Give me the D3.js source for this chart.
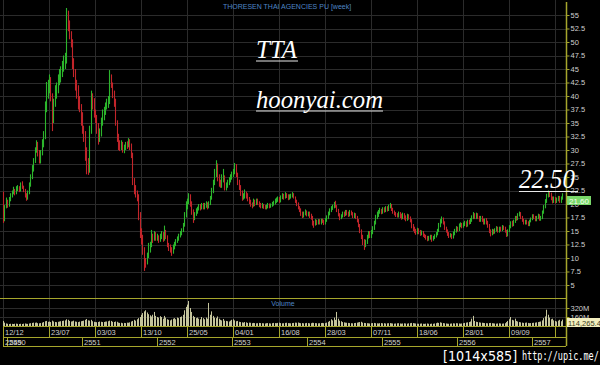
<!DOCTYPE html>
<html>
<head>
<meta charset="utf-8">
<title>TTA week</title>
<script src="https://cdnjs.cloudflare.com/ajax/libs/d3/7.8.5/d3.min.js"></script>
<style>
  body { margin: 0; background: #000; }
  svg { display: block; }
</style>
</head>
<body>
<svg id="chart" width="600" height="365"></svg>
<script>
// weekly bars, first week = 12/12/2006
var firstOpen = 22.0;
var closes = [
  17.0,19.5,20.5,19.8,20.8,21.5,22.0,22.5,22.0,22.8,
  23.0,22.5,23.5,23.0,22.5,21.5,21.0,22.0,23.5,25.0,
  26.5,28.0,30.0,31.0,29.5,28.0,29.5,31.5,32.5,38.0,
  40.5,41.5,43.0,40.0,36.0,38.5,40.5,41.0,42.5,43.5,
  44.5,45.5,46.5,47.0,55.0,53.0,51.5,50.0,46.0,44.5,
  42.0,40.5,39.0,38.0,36.0,34.0,32.5,29.0,27.0,26.0,
  34.0,40.0,38.5,37.0,36.0,34.0,32.5,33.0,35.0,36.5,
  37.0,38.0,38.5,39.0,43.5,42.0,40.5,39.0,35.0,32.5,
  31.0,30.5,31.0,30.0,30.5,31.0,30.8,31.5,31.0,29.0,
  24.0,22.5,22.0,21.5,18.0,15.0,13.0,11.5,9.5,9.0,
  10.5,11.5,12.5,14.0,13.5,14.5,13.8,14.0,13.5,14.0,
  14.5,13.5,15.0,14.0,12.5,12.0,11.5,11.0,12.0,12.5,
  13.0,13.5,14.0,14.5,15.0,16.0,18.0,19.5,20.5,21.5,
  20.0,18.5,17.5,18.0,18.5,19.0,19.5,19.2,19.8,19.5,
  19.8,20.0,19.5,20.0,21.0,22.5,24.0,25.5,27.0,25.0,
  24.0,23.5,24.5,25.0,23.0,23.5,24.0,24.5,25.0,25.5,
  26.0,27.0,25.5,24.0,23.0,22.0,21.0,21.5,22.0,21.5,
  21.0,20.5,20.0,19.8,20.5,20.0,20.8,20.2,19.8,19.5,
  19.8,19.5,19.2,19.5,19.8,19.5,19.8,20.0,20.2,20.5,
  20.8,21.0,20.5,21.2,21.5,21.2,21.8,21.5,21.0,21.3,
  21.5,21.8,21.2,20.5,20.0,19.2,18.8,18.2,17.8,18.2,
  18.5,18.0,18.2,17.8,17.5,16.5,16.2,16.8,16.5,16.8,
  16.5,17.0,16.8,16.5,17.0,17.5,18.2,18.8,19.2,19.5,
  20.0,19.5,18.8,18.0,17.5,17.8,18.2,18.0,18.5,18.2,
  18.0,18.5,18.2,17.8,18.0,17.5,17.0,16.0,15.0,14.0,
  13.0,12.5,13.0,14.0,14.5,14.0,14.8,15.5,16.5,17.5,
  18.0,18.5,18.8,18.5,19.0,18.8,19.2,19.0,19.5,19.8,
  19.0,18.5,18.2,18.0,17.8,18.2,17.8,17.5,18.0,17.5,
  17.2,17.8,17.5,17.0,16.0,15.5,15.0,14.8,15.2,14.8,
  14.5,14.8,14.2,14.0,13.8,13.5,13.8,14.0,13.5,13.8,
  14.0,14.5,15.0,16.0,16.8,17.2,16.5,15.5,15.0,14.5,
  14.0,14.2,13.8,14.5,15.0,15.5,15.2,16.0,16.2,15.8,
  16.2,16.5,16.0,16.8,16.5,17.0,17.5,18.0,17.5,18.0,
  17.5,17.0,17.5,17.0,16.5,17.0,16.5,16.0,15.0,14.5,
  15.0,14.8,15.2,15.5,15.0,15.5,15.2,15.8,15.5,15.0,
  14.2,15.0,15.8,16.5,16.2,16.8,17.5,17.2,18.0,18.2,
  17.5,17.0,16.5,16.8,16.5,16.2,16.8,17.2,17.8,17.5,
  17.0,17.5,17.8,17.2,17.5,18.5,19.5,20.5,21.5,22.0,
  21.8,21.0,20.5,21.0,20.5,20.8,21.2,20.5,21.0,21.6
];
var highs = [
  22.3,19.8,21.2,20.8,21.3,22.0,22.5,23.2,22.8,23.3,
  23.5,23.3,24.0,24.2,23.4,22.8,22.0,22.5,24.0,25.5,
  27.2,28.5,30.5,31.8,31.5,30.0,30.0,32.0,33.5,39.0,
  42.6,43.0,44.0,43.5,40.5,39.5,42.0,42.5,44.0,45.0,
  45.5,46.5,47.5,48.0,56.3,55.8,54.0,52.0,50.5,47.0,
  45.0,43.0,42.0,40.0,38.5,37.0,34.5,33.5,30.5,28.5,
  34.5,41.0,40.5,39.6,37.5,36.5,35.0,34.0,36.0,37.5,
  38.0,38.8,39.5,40.0,44.8,44.0,42.5,41.0,39.5,35.5,
  33.0,31.8,31.8,31.5,31.0,31.5,31.6,32.2,32.0,31.2,
  29.5,24.8,23.5,22.5,21.8,18.5,15.5,14.3,12.0,10.0,
  11.0,12.8,13.0,15.2,14.5,15.0,14.8,14.5,14.2,14.5,
  15.0,14.8,16.0,15.2,14.2,12.8,12.5,12.0,12.5,13.0,
  13.5,14.0,14.5,15.0,15.5,16.5,18.5,20.5,21.0,22.0,
  21.8,20.5,19.0,18.5,19.2,19.5,20.0,20.0,20.2,20.2,
  20.2,20.5,20.3,20.5,21.5,23.0,24.5,26.5,28.1,27.5,
  25.5,24.5,25.5,26.5,25.3,24.0,24.5,25.0,25.5,26.0,
  26.5,27.6,27.4,25.8,24.5,23.5,22.5,22.0,22.7,22.3,
  22.0,21.3,20.8,20.3,21.0,20.8,21.0,21.0,20.5,20.2,
  20.2,20.0,19.8,19.9,20.2,20.1,20.1,20.4,20.6,21.0,
  21.2,21.4,21.3,21.6,22.0,21.9,22.2,22.0,21.8,21.8,
  21.9,22.2,22.0,21.4,20.8,20.3,19.6,19.2,18.6,18.6,
  19.0,18.8,18.6,18.6,18.2,17.8,16.9,17.2,17.1,17.2,
  17.2,17.3,17.3,17.1,17.4,17.9,18.6,19.2,19.6,19.9,
  20.4,20.6,19.8,19.1,18.3,18.1,18.6,18.6,18.9,18.9,
  18.6,18.9,18.8,18.5,18.4,18.3,17.8,17.2,16.3,15.3,
  14.3,13.5,13.4,14.3,15.0,15.0,15.2,15.9,16.9,18.0,
  18.6,18.9,19.3,19.1,19.4,19.4,19.6,19.6,19.9,20.2,
  20.0,19.3,18.8,18.5,18.3,18.6,18.5,18.2,18.4,18.3,
  17.9,18.2,18.1,17.7,17.2,16.3,15.8,15.4,15.6,15.5,
  15.2,15.1,15.0,14.5,14.3,14.1,14.1,14.3,14.3,14.1,
  14.4,14.8,15.4,16.5,17.2,17.7,17.5,16.8,15.8,15.3,
  14.8,14.6,14.5,14.9,15.4,15.9,15.8,16.4,16.6,16.5,
  16.6,16.9,16.8,17.1,17.1,17.4,17.9,18.5,18.3,18.4,
  18.3,17.8,17.8,17.8,17.3,17.3,17.4,16.9,16.3,15.3,
  15.4,15.3,15.5,15.9,15.8,15.8,15.8,16.1,16.0,15.8,
  15.2,15.3,16.1,16.8,16.9,17.1,17.8,17.8,18.3,18.6,
  18.5,17.8,17.3,17.1,17.1,16.8,17.1,17.5,18.1,18.1,
  17.8,17.8,18.2,18.1,17.8,18.8,19.8,20.9,21.9,22.5,
  22.4,22.1,21.4,21.4,21.3,21.2,21.5,21.5,21.4,22.0
];
var lows = [
  16.5,16.8,19.2,19.3,19.5,20.5,21.2,21.8,21.6,21.8,
  22.4,22.2,22.3,22.8,22.2,21.2,20.6,20.8,21.8,23.2,
  24.6,26.0,27.6,29.5,28.8,27.5,27.5,29.0,30.5,32.0,
  37.0,39.5,40.5,39.0,33.5,35.0,38.0,39.5,40.5,42.0,
  42.5,43.5,44.5,45.0,46.0,52.0,50.5,49.0,45.0,43.5,
  41.0,39.5,37.5,37.0,34.5,33.0,31.5,28.0,25.5,25.4,
  25.8,33.0,37.5,36.0,35.0,33.0,31.0,31.5,32.5,34.5,
  35.5,36.5,37.5,37.8,38.5,41.5,39.6,38.0,34.5,31.5,
  30.0,29.8,30.0,29.5,29.4,30.0,30.2,30.5,30.0,28.5,
  23.5,21.8,21.2,20.5,17.0,13.7,12.5,10.6,7.6,8.2,
  8.8,10.0,11.0,12.0,12.8,13.2,13.2,13.2,12.8,13.0,
  13.5,13.0,13.2,13.5,12.0,11.3,11.0,10.4,10.8,11.6,
  12.2,12.8,13.2,13.8,14.2,14.8,15.8,17.5,19.0,20.0,
  19.5,18.0,16.5,17.0,17.8,18.2,18.8,18.8,19.0,19.0,
  19.0,19.3,19.0,19.2,19.8,20.8,22.0,23.5,25.0,24.2,
  23.2,23.0,23.0,24.0,22.5,22.5,23.0,23.5,24.0,24.5,
  25.0,25.5,25.0,23.5,22.6,21.5,20.6,20.8,21.0,21.0,
  20.5,20.0,19.5,19.2,19.5,19.6,19.8,19.8,19.4,19.2,
  19.2,19.1,19.0,19.0,19.2,19.2,19.3,19.5,19.7,19.9,
  20.2,20.4,20.2,20.3,20.9,20.8,21.0,21.1,20.7,20.8,
  21.0,21.2,21.0,20.2,19.6,19.0,18.5,17.8,17.4,17.5,
  17.9,17.7,17.7,17.4,17.1,16.0,15.6,16.0,16.1,16.2,
  16.2,16.2,16.5,16.1,16.2,16.7,17.2,17.9,18.5,18.9,
  19.2,19.3,18.5,17.7,17.0,17.2,17.5,17.6,17.8,17.9,
  17.6,17.7,17.9,17.4,17.4,17.2,16.6,15.7,14.6,13.5,
  12.4,11.5,12.0,12.6,13.6,13.7,13.7,14.4,15.2,16.2,
  17.2,17.6,18.2,18.1,18.2,18.4,18.5,18.6,18.7,19.2,
  18.7,18.2,17.9,17.6,17.5,17.5,17.4,17.1,17.2,17.1,
  16.8,16.9,17.1,16.6,15.5,15.0,14.6,14.3,14.4,14.4,
  14.1,14.2,13.9,13.7,13.4,13.1,13.2,13.4,13.0,13.2,
  13.5,13.8,14.2,14.8,15.7,16.4,16.2,15.2,14.7,14.1,
  13.7,13.8,13.5,13.6,14.2,14.7,14.9,15.0,15.7,15.5,
  15.6,15.9,15.7,15.8,16.2,16.3,16.7,17.2,17.2,17.2,
  17.2,16.7,16.7,16.7,16.2,16.2,16.2,15.6,14.6,14.0,
  14.2,14.4,14.5,14.9,14.7,14.7,14.9,15.0,15.2,14.7,
  13.9,14.0,14.8,15.5,15.8,15.9,16.5,16.9,17.0,17.7,
  17.2,16.7,16.2,16.2,16.2,15.9,15.9,16.6,17.0,17.2,
  16.8,16.8,17.2,16.9,16.9,17.2,18.2,19.2,20.2,21.2,
  21.3,20.7,20.1,20.2,20.1,20.2,20.5,20.2,20.2,20.8
];
// volume, millions of shares
var volumes = [
  90,60,45,40,35,40,38,35,40,42,
  38,35,40,36,42,45,40,38,45,50,
  55,60,58,62,50,48,52,60,70,85,
  90,75,80,70,95,80,72,68,75,80,
  85,90,95,100,120,110,90,80,85,95,
  80,75,70,78,85,90,95,110,125,100,
  95,110,85,75,70,68,72,80,75,70,
  72,78,80,85,95,90,75,72,80,75,
  60,55,58,50,55,52,60,58,65,80,
  90,110,95,120,140,160,200,230,260,280,
  240,210,190,170,200,250,180,160,150,175,
  160,130,180,150,120,110,100,115,130,140,
  120,150,140,160,170,200,280,340,380,445,
  320,250,180,160,140,150,130,120,160,140,
  120,150,130,410,200,260,180,150,140,170,
  130,110,100,125,95,90,85,80,95,110,
  120,100,85,90,75,70,65,60,70,65,
  55,60,58,50,55,52,48,50,55,52,
  50,48,45,50,52,48,45,50,55,52,
  50,55,60,52,48,50,55,58,52,50,
  48,52,55,60,58,62,55,50,52,48,
  50,55,52,48,50,58,55,52,50,48,
  50,52,55,50,52,60,75,90,120,100,
  150,110,250,130,95,85,70,65,60,58,
  55,52,50,48,52,55,60,65,70,75,
  60,55,52,50,48,45,50,52,55,50,
  48,45,50,52,48,50,45,48,50,52,
  48,45,42,45,48,50,45,42,45,48,
  45,42,48,50,55,52,48,45,42,40,
  42,45,40,38,42,45,40,38,42,40,
  45,50,60,55,65,58,52,48,45,42,
  40,42,45,48,45,50,48,45,42,45,
  50,55,60,65,70,80,130,180,90,75,
  70,65,60,58,55,52,50,48,52,55,
  50,48,45,42,45,48,45,42,45,50,
  70,90,120,160,110,100,130,90,80,70,
  65,60,55,58,62,55,50,52,55,58,
  60,65,70,75,80,100,140,170,290,200,
  150,120,130,100,90,80,95,110,85,114
];

var priceTicks = [5,7.5,10,12.5,15,17.5,20,22.5,25,27.5,30,32.5,35,37.5,40,42.5,45,47.5,50,52.5,55];
var volumeTicks = [160, 320];
var dateLabels = ["12/12","23/07","03/03","13/10","25/05","04/01","16/08","28/03","07/11","18/06","28/01","09/09",""];
var dateStepWeeks = 32;
var yearLabels = [2549,2550,2551,2552,2553,2554,2555,2556,2557];
var lastPrice = 21.60;
var lastVolumeText = "114,265.4";
var markText = "22.50";

var svg = d3.select("#chart");
var W = 600, H = 365;
var axisX = 566;

svg.append("rect").attr("width", W).attr("height", H).attr("fill", "#000");

var x = d3.scaleLinear().domain([0, closes.length - 1]).range([3, 562]);
var y = d3.scaleLinear().domain([5, 55]).range([285, 15]);
var yVol = d3.scaleLinear().domain([0, 320]).range([326, 308]);

var startDate = new Date(2006, 11, 12);
var weekMs = 7 * 24 * 3600 * 1000;
function weekOf(date) { return (date - startDate) / weekMs; }

// grid
var grid = svg.append("g").attr("stroke", "#2b2b2b").attr("stroke-width", 1);
grid.selectAll("line.h")
  .data(priceTicks)
  .enter().append("line")
    .attr("x1", 0).attr("x2", axisX)
    .attr("y1", function(d) { return Math.round(y(d)) + 0.5; })
    .attr("y2", function(d) { return Math.round(y(d)) + 0.5; });
grid.selectAll("line.vg")
  .data(volumeTicks)
  .enter().append("line")
    .attr("x1", 0).attr("x2", axisX)
    .attr("y1", function(d) { return Math.round(yVol(d)) + 0.5; })
    .attr("y2", function(d) { return Math.round(yVol(d)) + 0.5; });
grid.selectAll("line.v")
  .data(dateLabels)
  .enter().append("line")
    .attr("x1", function(d, i) { return Math.round(x(i * dateStepWeeks)) + 0.5; })
    .attr("x2", function(d, i) { return Math.round(x(i * dateStepWeeks)) + 0.5; })
    .attr("y1", 0).attr("y2", 326);

// title
svg.append("text")
  .attr("x", 287).attr("y", 9)
  .attr("text-anchor", "middle")
  .attr("font-family", "Liberation Sans, Arial, sans-serif")
  .attr("font-size", 7)
  .attr("fill", "#4f86c6")
  .text("THORESEN THAI AGENCIES PU [week]");

// price bars
var bars = svg.append("g");
bars.selectAll("line")
  .data(closes)
  .enter().append("line")
    .attr("x1", function(d, i) { return Math.round(x(i)) + 0.5; })
    .attr("x2", function(d, i) { return Math.round(x(i)) + 0.5; })
    .attr("y1", function(d, i) { return y(highs[i]); })
    .attr("y2", function(d, i) { return y(lows[i]); })
    .attr("stroke-width", 1.1)
    .attr("stroke", function(d, i) {
      var o = i == 0 ? firstOpen : closes[i - 1];
      if (d > o) return "#2cb52c";
      if (d < o) return "#c2252a";
      return "#d2a02a";
    });

// volume panel
svg.append("line")
  .attr("x1", 0).attr("x2", axisX).attr("y1", 298.5).attr("y2", 298.5)
  .attr("stroke", "#a6a62c");
svg.append("text")
  .attr("x", 283).attr("y", 306)
  .attr("text-anchor", "middle")
  .attr("font-family", "Liberation Sans, Arial, sans-serif")
  .attr("font-size", 7)
  .attr("fill", "#4f86c6")
  .text("Volume");

svg.append("g").selectAll("rect")
  .data(volumes)
  .enter().append("rect")
    .attr("x", function(d, i) { return Math.round(x(i)); })
    .attr("width", 1)
    .attr("y", function(d) { return yVol(d); })
    .attr("height", function(d) { return 326 - yVol(d); })
    .attr("fill", "#c4c49c");

// date axis rows
var axisCol = "#a6a62c";
var dax = svg.append("g").attr("stroke", axisCol).attr("stroke-width", 1);
[326.5, 337.5, 346.5].forEach(function(yy) {
  dax.append("line").attr("x1", 3).attr("x2", axisX).attr("y1", yy).attr("y2", yy);
});
dax.selectAll("line.dt")
  .data(dateLabels)
  .enter().append("line")
    .attr("x1", function(d, i) { return Math.round(x(i * dateStepWeeks)) + 0.5; })
    .attr("x2", function(d, i) { return Math.round(x(i * dateStepWeeks)) + 0.5; })
    .attr("y1", 326).attr("y2", 337);
var yearX = yearLabels.map(function(yr) {
  return Math.max(0, Math.round(x(Math.max(0, weekOf(new Date(yr - 543, 0, 1))))));
});
dax.selectAll("line.yr")
  .data(yearX)
  .enter().append("line")
    .attr("x1", function(d) { return d + 0.5; })
    .attr("x2", function(d) { return d + 0.5; })
    .attr("y1", 337).attr("y2", 346);

var lblFont = "Liberation Sans, Arial, sans-serif";
svg.append("g").selectAll("text")
  .data(dateLabels)
  .enter().append("text")
    .attr("x", function(d, i) { return Math.round(x(i * dateStepWeeks)) + 2; })
    .attr("y", 335)
    .attr("font-family", lblFont).attr("font-size", 7.5)
    .attr("fill", "#cfcfcf")
    .text(function(d) { return d; });
svg.append("g").selectAll("text")
  .data(yearLabels)
  .enter().append("text")
    .attr("x", function(d, i) { return yearX[i] + 2; })
    .attr("y", 344.5)
    .attr("font-family", lblFont).attr("font-size", 7.5)
    .attr("fill", "#cfcfcf")
    .text(function(d) { return d; });

// right price axis
var yAxis = d3.axisRight(y)
  .tickValues(priceTicks)
  .tickSize(3)
  .tickFormat(function(d) { return d % 1 ? d.toFixed(1) : d; });
var ga = svg.append("g").attr("transform", "translate(" + (axisX + 0.5) + ",0)").call(yAxis);
ga.select(".domain").remove();
ga.selectAll("line").attr("stroke", axisCol);
ga.selectAll("text").attr("fill", "#cfcfcf").attr("font-size", 7.5).attr("font-family", lblFont).attr("x", 4);

var vAxis = d3.axisRight(yVol)
  .tickValues(volumeTicks)
  .tickSize(3)
  .tickFormat(function(d) { return d + "M"; });
var gv = svg.append("g").attr("transform", "translate(" + (axisX + 0.5) + ",0)").call(vAxis);
gv.select(".domain").remove();
gv.selectAll("line").attr("stroke", axisCol);
gv.selectAll("text").attr("fill", "#cfcfcf").attr("font-size", 7.5).attr("font-family", lblFont).attr("x", 4);

svg.append("line")
  .attr("x1", axisX + 0.5).attr("x2", axisX + 0.5).attr("y1", 2).attr("y2", 346)
  .attr("stroke", axisCol).attr("stroke-width", 1.5);

// last price / volume boxes
var lpY = Math.round(y(lastPrice)) + 1;
svg.append("rect")
  .attr("x", axisX + 1).attr("y", lpY)
  .attr("width", 24).attr("height", 9)
  .attr("fill", "#79d86a");
svg.append("text")
  .attr("x", axisX + 3).attr("y", lpY + 7.5)
  .attr("font-family", lblFont).attr("font-size", 8)
  .attr("fill", "#f4fff0")
  .text(lastPrice.toFixed(2));

svg.append("rect")
  .attr("x", axisX + 1).attr("y", 318)
  .attr("width", 34).attr("height", 9)
  .attr("fill", "#f3efbf");
svg.append("text")
  .attr("x", axisX + 2).attr("y", 325.5)
  .attr("font-family", lblFont).attr("font-size", 7.5)
  .attr("fill", "#3a3a20")
  .text(lastVolumeText);

// hand-written notes
var serif = "Liberation Serif, Times New Roman, serif";
function note(txt, tx, ty, size, len, ulx2, uly) {
  svg.append("text")
    .attr("x", tx).attr("y", ty)
    .attr("font-family", serif).attr("font-style", "italic")
    .attr("font-size", size).attr("fill", "#ffffff")
    .attr("textLength", len).attr("lengthAdjust", "spacingAndGlyphs")
    .text(txt);
  svg.append("line")
    .attr("x1", tx).attr("x2", ulx2).attr("y1", uly).attr("y2", uly)
    .attr("stroke", "#e8e8e8").attr("stroke-width", 1.2);
}
note("TTA", 256, 58, 25, 41, 298, 61);
note("hoonyai.com", 256, 108, 25, 127, 383, 111);
note(markText, 519, 188, 27, 56, 578, 191.5);

// watermark (narrow glyphs, squeezed horizontally)
svg.append("text")
  .attr("transform", "translate(443,361) scale(0.91,1)")
  .attr("font-family", "DejaVu Sans, sans-serif")
  .attr("font-size", 14).attr("fill", "#ffffff")
  .text("[1014x585]");
svg.append("text")
  .attr("transform", "translate(522,360) scale(0.655,1)")
  .attr("font-family", "DejaVu Sans Mono, monospace")
  .attr("font-size", 13).attr("fill", "#ffffff")
  .text("http://upic.me/");
</script>
</body>
</html>
